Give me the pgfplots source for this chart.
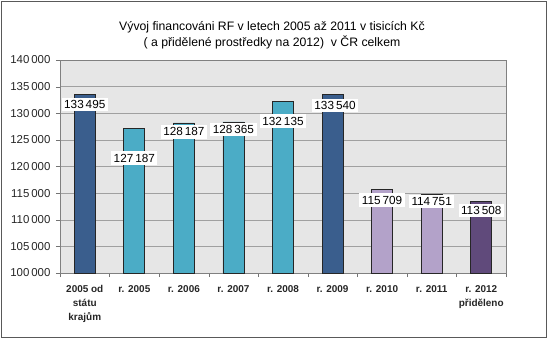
\documentclass[border=0pt]{standalone}
\usepackage{pgfplots}
\pgfplotsset{compat=1.18}
\usepackage{fontspec}
\setmainfont{Liberation Sans}
\definecolor{darkblue}{HTML}{3A5E8D}
\definecolor{tealbar}{HTML}{4BACC6}
\definecolor{lpurple}{HTML}{B3A2C9}
\definecolor{dpurple}{HTML}{604A7B}
\definecolor{bggray}{HTML}{E6E6E6}
\definecolor{gridgray}{HTML}{A0A0A0}
\begin{document}
\begin{tikzpicture}[x=1bp,y=1bp]
\path[use as bounding box] (-60,-76) rectangle (490,273);
\draw[color=black!65, line width=0.8bp] (-59,-64) rectangle (486,272);
\node[font=\fontsize{12.3}{16}\selectfont, align=center] at (212,238) {Vývoj financováni RF v letech 2005 až 2011 v tisicích Kč\\( a přidělené prostředky na 2012)\ \ v ČR celkem};
\begin{axis}[
  at={(0,0)}, anchor=south west,
  scale only axis, width=446bp, height=213bp,
  xmin=-0.5, xmax=8.5, ymin=100000, ymax=140000,
  ytick={100000,105000,110000,115000,120000,125000,130000,135000,140000},
  yticklabels={100\,000,105\,000,110\,000,115\,000,120\,000,125\,000,130\,000,135\,000,140\,000},
  xtick={0,...,8},
  xticklabels={{2005 od\\státu\\krajům},{r. 2005},{r. 2006},{r. 2007},{r. 2008},{r. 2009},{r. 2010},{r. 2011},{r. 2012\\přiděleno}},
  xticklabel style={font=\fontsize{10}{14}\selectfont\bfseries, align=center, color=black!85, yshift=-5bp},
  minor xtick={-0.5,0.5,...,8.5},
  major x tick style={draw=none},
  minor tick length=4bp, major tick length=4bp,
  tick align=outside, tick pos=left,
  tick style={color=black!55},
  axis line style={color=black!50},
  ymajorgrids, grid style={color=gridgray, line width=0.5bp},
  axis background/.style={fill=bggray},
  yticklabel style={font=\fontsize{11.5}{13}\selectfont, color=black!85, xshift=-2bp},
  scaled y ticks=false,
  ybar, bar width=21bp, bar shift=0pt,
  every axis plot/.append style={draw=black!85, line width=0.8bp},
  clip=true,
]
\addplot[fill=darkblue] coordinates {(0,133495) (5,133540)};
\addplot[fill=tealbar] coordinates {(1,127187) (2,128187) (3,128365) (4,132135)};
\addplot[fill=lpurple] coordinates {(6,115709) (7,114751)};
\addplot[fill=dpurple] coordinates {(8,113508)};
\begin{scope}[every node/.style={fill=white, inner xsep=2.5bp, inner ysep=2.5bp, font=\fontsize{11.8}{13}\selectfont}]
\node at (axis cs:0,131700) {133\,495};
\node at (axis cs:1,121600) {127\,187};
\node at (axis cs:2,126500) {128\,187};
\node at (axis cs:3,127000) {128\,365};
\node at (axis cs:4,128550) {132\,135};
\node at (axis cs:5.05,131400) {133\,540};
\node at (axis cs:6,113700) {115\,709};
\node at (axis cs:7,113500) {114\,751};
\node at (axis cs:8,111700) {113\,508};
\end{scope}
\end{axis}
\end{tikzpicture}
\end{document}
